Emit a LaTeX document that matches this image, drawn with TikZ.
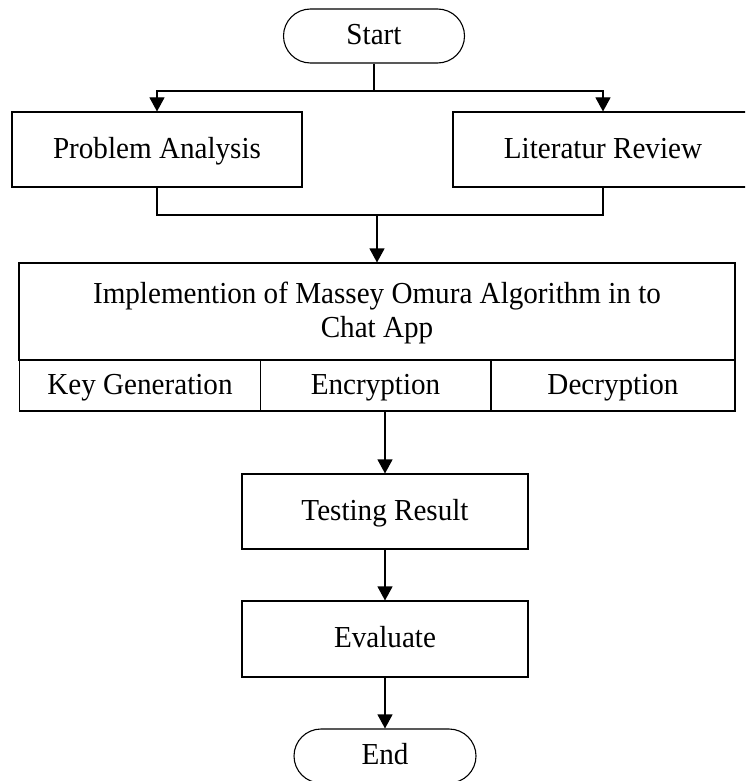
\documentclass[tikz,border=0pt]{standalone}
\usepackage{fontspec}
\setmainfont{Liberation Serif}[FakeStretch=0.955]
\usetikzlibrary{arrows.meta}
\begin{document}
\begin{tikzpicture}[x=1pt,y=-1pt,
  every node/.style={font=\fontsize{30.5}{34}\selectfont, inner sep=0pt, align=center},
  one/.style={text height=21pt, text depth=4pt},
  box/.style={draw, line width=1.1pt, rectangle},
  term/.style={draw, line width=1.1pt, rectangle, rounded corners=27pt, minimum width=181pt, minimum height=54pt, one},
  conn/.style={line width=1.1pt},
  arr/.style={conn, -{Triangle[length=14pt,width=15pt]}}]
\path[use as bounding box, clip] (0,0) rectangle (745,781);
\fill[white] (0,0) rectangle (745,781);

\node[term] (start) at (374,36) {Start};
\node[box, one, minimum width=290pt, minimum height=75pt] (pa) at (157,149.5) {Problem Analysis};
\node[box, one, minimum width=300pt, minimum height=75pt] (lr) at (603,149.5) {Literatur Review};

\node[box, minimum width=716pt, minimum height=97pt] (impl) at (377,311.5) {\rule{0pt}{25pt}Implemention of Massey Omura Algorithm in to\\Chat App};
\node[box, one, minimum width=241pt, minimum height=51pt] (kg) at (140,385.5) {Key Generation};
\node[box, one, minimum width=230pt, minimum height=51pt] (enc) at (375.5,385.5) {Encryption};
\node[box, one, minimum width=244pt, minimum height=51pt] (dec) at (613,385.5) {Decryption};

\node[box, one, minimum width=286pt, minimum height=75pt] (tr) at (385,511.5) {Testing Result};
\node[box, one, minimum width=286pt, minimum height=76pt] (ev) at (385,639) {Evaluate};
\node[term, minimum width=182pt] (end) at (385,756) {End};

\coordinate (sj) at (374,91);
\coordinate (mj) at (377,215);

\draw[conn] (start.south) -- (sj);
\draw[arr] (sj) -| (pa.north);
\draw[arr] (sj) -| (lr.north);
\draw[conn] (pa.south) |- (mj);
\draw[conn] (lr.south) |- (mj);
\draw[arr] (mj) -- (impl.north);
\draw[arr] (enc.south -| tr.north) -- (tr.north);
\draw[arr] (tr.south) -- (ev.north);
\draw[arr] (ev.south) -- (end.north);
\end{tikzpicture}
\end{document}
